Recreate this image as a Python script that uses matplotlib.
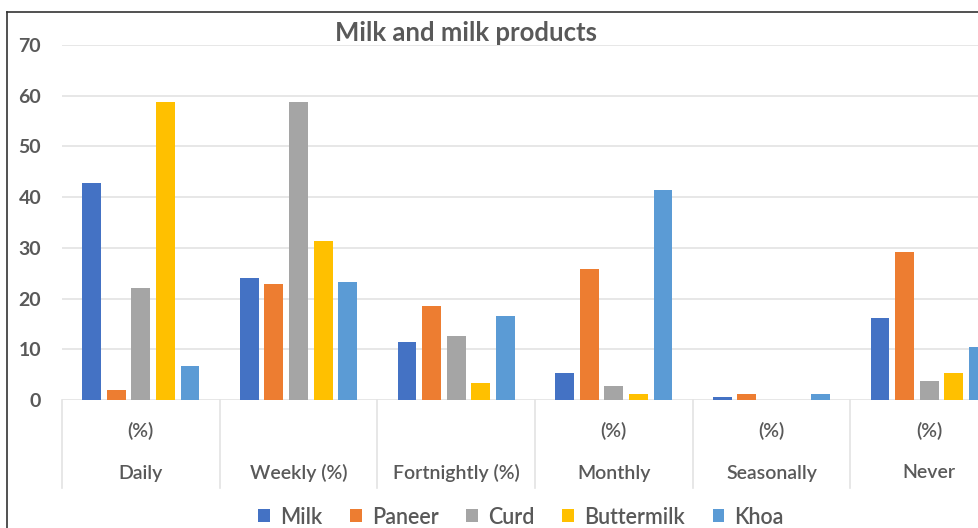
import matplotlib
matplotlib.use("Agg")
import matplotlib.pyplot as plt
import matplotlib.transforms as mtransforms
from matplotlib.patches import Patch
from matplotlib.lines import Line2D
import numpy as np

# Data
categories = ["Daily", "Weekly (%)", "Fortnightly (%)", "Monthly", "Seasonally", "Never"]
upper_labels = ["(%)", "", "", "(%)", "(%)", "(%)"]
series_names = ["Milk", "Paneer", "Curd", "Buttermilk", "Khoa"]
milk = [42.8, 24.0, 11.4, 5.3, 0.6, 16.1]
paneer = [2.0, 22.9, 18.6, 25.8, 1.2, 29.2]
curd = [22.1, 58.8, 12.7, 2.8, 0.0, 3.8]
buttermilk = [58.8, 31.3, 3.3, 1.2, 0.0, 5.3]
khoa = [6.7, 23.3, 16.6, 41.4, 1.2, 10.5]
y_ticks = [0, 10, 20, 30, 40, 50, 60, 70]
title = "Milk and milk products"

series = [milk, paneer, curd, buttermilk, khoa]
colors = ["#4472C4", "#ED7D31", "#A5A5A5", "#FFC000", "#5B9BD5"]
text_color = "#595959"
grid_color = "#E3E3E3"

plt.rcParams["font.family"] = ["Lato", "DejaVu Sans"]

W, H = 979, 528
fig = plt.figure(figsize=(W / 100, H / 100), dpi=100)
fig.patch.set_facecolor("white")

# plot area (extends past the right edge of the canvas)
x0, x1, y_top, y_zero = 62, 1008, 45, 400
ax = fig.add_axes([x0 / W, (H - y_zero) / H, (x1 - x0) / W, (y_zero - y_top) / H])
ax_h_px = y_zero - y_top

x = np.arange(len(categories))
bar_w = 0.12
step = 0.156
for i, (vals, col, name) in enumerate(zip(series, colors, series_names)):
    ax.bar(x + (i - 2) * step, vals, width=bar_w, color=col, label=name,
           zorder=3, linewidth=0)

ax.set_xlim(-0.5, len(categories) - 0.5)
ax.set_ylim(0, 70)
ax.set_yticks(y_ticks)
ax.set_yticklabels([str(v) for v in y_ticks], fontsize=14, color=text_color,
                   fontweight="bold")
ax.set_xticks([])
ax.tick_params(axis="y", length=0, pad=15)
ax.grid(axis="y", color=grid_color, linewidth=1.2, zorder=0)
for s in ax.spines.values():
    s.set_visible(False)

# category labels and separators below the axis
trans = mtransforms.blended_transform_factory(ax.transData, ax.transAxes)
y_upper = -(431 - y_zero) / ax_h_px
y_name = -(473 - y_zero) / ax_h_px
y_sep = -(488 - y_zero) / ax_h_px
for xi, (up, name) in enumerate(zip(upper_labels, categories)):
    if up:
        ax.text(xi, y_upper, up, transform=trans, ha="center", va="center",
                fontsize=14, fontweight="semibold", color=text_color)
    ax.text(xi, y_name, name, transform=trans, ha="center", va="center",
            fontsize=14, fontweight="semibold", color=text_color)
for b in np.arange(-0.5, len(categories), 1.0):
    ax.plot([b, b], [0, y_sep], transform=trans, color=grid_color,
            linewidth=1.2, clip_on=False)

# title
fig.text(466 / W, (H - 33) / H, title, ha="center", va="center",
         fontsize=18.5, fontweight="bold", color=text_color)

# legend
handles = [Patch(facecolor=c, edgecolor="none", label=n)
           for c, n in zip(colors, series_names)]
fig.legend(handles=handles, loc="center", bbox_to_anchor=(521 / W, (H - 517) / H),
           ncol=5, frameon=False, fontsize=15.5, handlelength=0.55, handleheight=0.55,
           handletextpad=0.45, columnspacing=1.3, labelcolor=text_color,
           borderpad=0, borderaxespad=0, prop={"size": 15.5, "weight": "semibold"})

# chart frame (top and left edges visible)
fig.add_artist(Line2D([7 / W, 1.0], [(H - 12) / H, (H - 12) / H],
                      transform=fig.transFigure, color="#333333", linewidth=1.2))
fig.add_artist(Line2D([7 / W, 7 / W], [0.0, (H - 12) / H],
                      transform=fig.transFigure, color="#333333", linewidth=1.2))

fig.savefig("out.png", dpi=100)
